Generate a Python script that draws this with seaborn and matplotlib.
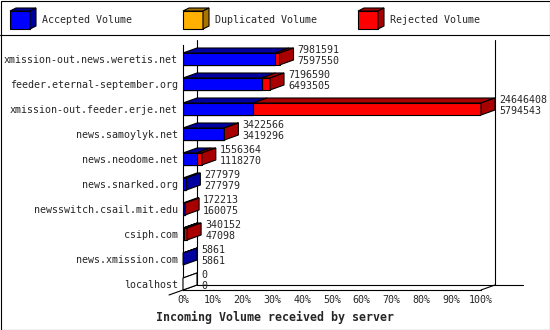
import matplotlib
matplotlib.use("Agg")
import numpy as np
import pandas as pd
import matplotlib.pyplot as plt
from matplotlib.patches import Polygon, Rectangle
from matplotlib.lines import Line2D
import seaborn as sns

# ---------------- data ----------------
servers = [
    "xmission-out.news.weretis.net",
    "feeder.eternal-september.org",
    "xmission-out.feeder.erje.net",
    "news.samoylyk.net",
    "news.neodome.net",
    "news.snarked.org",
    "newsswitch.csail.mit.edu",
    "csiph.com",
    "news.xmission.com",
    "localhost",
]
total_volume = [7981591, 7196590, 24646408, 3422566, 1556364, 277979, 172213, 340152, 5861, 0]
accepted_volume = [7597550, 6493505, 5794543, 3419296, 1118270, 277979, 160075, 47098, 5861, 0]
duplicated_volume = [0, 0, 0, 0, 0, 0, 0, 0, 0, 0]
percent_ticks = [0, 10, 20, 30, 40, 50, 60, 70, 80, 90, 100]
legend_labels = ["Accepted Volume", "Duplicated Volume", "Rejected Volume"]
title = "Incoming Volume received by server"

# ---------------- style ----------------
BLUE, BLUE_D = "#0000ff", "#0000a0"
ORANGE, ORANGE_D = "#ffb000", "#a87400"
RED, RED_D = "#ff0000", "#a80000"
FS = 7.2
LW = 0.8

sns.set_style("white")
plt.rcParams["font.family"] = ["DejaVu Sans Mono"]

W, H = 550, 330
fig = plt.figure(figsize=(W / 100, H / 100), dpi=100)
fig.patch.set_facecolor("white")
ax = fig.add_axes([183 / W, 1 - 290 / H, 298 / W, 245 / H])
ax.set_facecolor("none")

df = pd.DataFrame({
    "server": servers,
    "total": total_volume,
    "accepted": accepted_volume,
    "duplicated": duplicated_volume,
})
df["acc_dup"] = df["accepted"] + df["duplicated"]

BAR_W = 0.48
common = dict(y="server", orient="h", width=BAR_W, edgecolor="black",
              linewidth=LW, saturation=1, ax=ax, errorbar=None, zorder=3)
sns.barplot(data=df, x="total", color=RED, **common)
sns.barplot(data=df, x="acc_dup", color=ORANGE, **common)
sns.barplot(data=df, x="accepted", color=BLUE, **common)

xmax = max(total_volume)
ax.set_xlim(0, xmax)
ax.set_ylim(9.24, -0.56)

ax.set_xticks([p / 100 * xmax for p in percent_ticks])
ax.set_xticklabels([f"{p}%" for p in percent_ticks])
ax.tick_params(axis="x", length=2.9, width=LW, pad=1, labelsize=FS, color="black")
ax.tick_params(axis="y", length=0, pad=3.6, labelsize=FS)
ax.set_xlabel("")
ax.set_ylabel("")
for s in ["top", "right"]:
    ax.spines[s].set_visible(False)
for s in ["left", "bottom"]:
    ax.spines[s].set_color("black")
    ax.spines[s].set_linewidth(LW)

DX, DY = 14, 5


def off(x, y, dx=DX, dy=DY):
    px, py = ax.transData.transform((x, y))
    return tuple(ax.transData.inverted().transform((px + dx, py + dy)))


# 3D walls / floor
ytop, ybot = -0.56, 9.24
wall_kw = dict(color="black", lw=LW, clip_on=False, zorder=1)
for x in (0, xmax):
    a, b = off(x, ytop), off(x, ybot)
    ax.add_line(Line2D([a[0], b[0]], [a[1], b[1]], **wall_kw))
a, b = off(0, ybot), off(xmax, ybot, DX + 28, DY)
ax.add_line(Line2D([a[0], b[0]], [a[1], b[1]], **wall_kw))
a, b = off(0, ybot, -DX, -DY), off(0, ybot)
ax.add_line(Line2D([a[0], b[0]], [a[1], b[1]], **wall_kw))
a = off(xmax, ybot)
ax.add_line(Line2D([xmax, a[0]], [ybot, a[1]], **wall_kw))

# 3D top and side faces
for i in range(len(servers)):
    t = total_volume[i]
    acc = accepted_volume[i]
    dup = duplicated_volume[i]
    top, bottom = i - BAR_W / 2, i + BAR_W / 2
    segs = [(0, acc, BLUE_D), (acc, acc + dup, ORANGE_D), (acc + dup, t, RED_D)]
    for k, (x0, x1, c) in enumerate(segs):
        if x1 > x0 or (k == 0 and t == 0):
            fc = c if x1 > x0 else "white"
            pts = [(x0, top), (x1, top), off(x1, top), off(x0, top)]
            ax.add_patch(Polygon(pts, closed=True, fc=fc, ec="black", lw=LW,
                                 clip_on=False, zorder=4))
    if t > acc + dup:
        sc = RED_D
    elif dup > 0:
        sc = ORANGE_D
    elif acc > 0:
        sc = BLUE_D
    else:
        sc = "white"
    pts = [(t, top), (t, bottom), off(t, bottom), off(t, top)]
    ax.add_patch(Polygon(pts, closed=True, fc=sc, ec="black", lw=LW,
                         clip_on=False, zorder=4))
    ax.annotate(f"{t}\n{acc}", xy=(t, i), xytext=(18 * 0.72, 2.6),
                textcoords="offset points", ha="left", va="center",
                fontsize=FS, linespacing=1.05, annotation_clip=False, zorder=5)

# ---------------- legend ----------------
def fpx(x, y):
    return (x / W, 1 - y / H)


legend_x = [10, 183, 358]
fronts = [BLUE, ORANGE, RED]
darks = [BLUE_D, ORANGE_D, RED_D]
for lx, fc, dc, lab in zip(legend_x, fronts, darks, legend_labels):
    x0, x1, y0, y1 = lx, lx + 20, 11, 29
    d, e = 6, 3
    fig.add_artist(Polygon([fpx(x0, y0), fpx(x1, y0), fpx(x1, y1), fpx(x0, y1)],
                           closed=True, fc=fc, ec="black", lw=LW, transform=fig.transFigure))
    fig.add_artist(Polygon([fpx(x0, y0), fpx(x1, y0), fpx(x1 + d, y0 - e), fpx(x0 + d, y0 - e)],
                           closed=True, fc=dc, ec="black", lw=LW, transform=fig.transFigure))
    fig.add_artist(Polygon([fpx(x1, y0), fpx(x1, y1), fpx(x1 + d, y1 - e), fpx(x1 + d, y0 - e)],
                           closed=True, fc=dc, ec="black", lw=LW, transform=fig.transFigure))
    fig.text((lx + 32) / W, 1 - 20 / H, lab, ha="left", va="center", fontsize=FS)

# separator and frame
fig.add_artist(Line2D([0, 1], [1 - 35 / H, 1 - 35 / H], color="black", lw=LW,
                      transform=fig.transFigure))
fig.add_artist(Rectangle((0.5 / W, 0.5 / H), 1 - 1 / W, 1 - 1 / H, fill=False,
                         ec="black", lw=LW, transform=fig.transFigure))

fig.text(0.5, 1 - 317 / H, title, ha="center", va="center",
         fontsize=8.4, fontweight="bold")

fig.savefig("out.png", dpi=100, facecolor="white")
